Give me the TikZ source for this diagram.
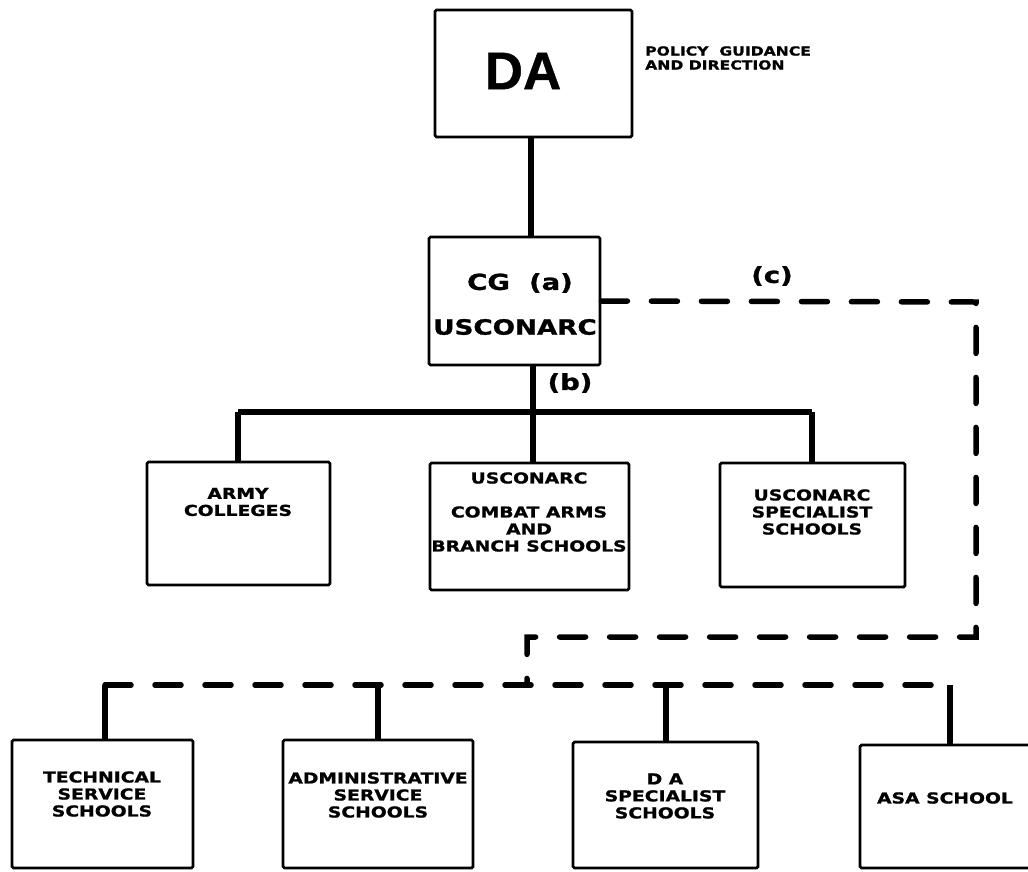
\documentclass[tikz,border=0pt]{standalone}
\usepackage{fontspec}
\setmainfont{DejaVu Sans}
\newfontfamily\widefont{DejaVu Sans}[FakeStretch=1.25,FakeBold=1.2]
\newfontfamily\dafont{Liberation Sans}[FakeBold=0.8]
\begin{document}
\begin{tikzpicture}[x=1pt,y=-1pt,
  box/.style={draw, line width=2.8pt, rounded corners=1.5pt, inner sep=0pt},
  txt/.style={font=\widefont\bfseries\fontsize{15}{17}\selectfont, align=center, inner sep=0pt},
  bigtxt/.style={font=\widefont\bfseries\fontsize{22}{26}\selectfont, align=center, inner sep=0pt},
  conn/.style={line width=5.5pt},
  dsh/.style={line width=5.5pt, line cap=round, dash pattern=on 26pt off 24pt}]
\useasboundingbox (0,0) rectangle (1028,871);
\clip (0,0) rectangle (1028,871);
% top
\node[box, minimum width=197pt, minimum height=127pt] (da) at (533.5,73.5) {};
\node[font=\dafont\bfseries\fontsize{53}{60}\selectfont, inner sep=0pt] (dat) at (523,71) {DA};
\node[anchor=west, font=\widefont\bfseries\fontsize{12.5}{14}\selectfont, align=left, inner sep=0pt] (pol) at (645,58) {POLICY\ \ GUIDANCE\\AND DIRECTION};
% CG
\node[box, minimum width=171pt, minimum height=128pt] (cg) at (514.5,301) {};
\node[bigtxt] (cgt1) at (520,283) {CG\ \ (a)};
\node[bigtxt, font=\widefont\bfseries\fontsize{21}{26}\selectfont] (cgt2) at (515,327) {USCONARC};
\node[bigtxt] (lb) at (570,383) {(b)};
\node[bigtxt] (lc) at (772,276) {(c)};
% middle row
\node[box, minimum width=183pt, minimum height=123pt] (army) at (238.5,523.5) {};
\node[txt] (armyt) at (238,502) {ARMY\\COLLEGES};
\node[box, minimum width=199pt, minimum height=127pt] (comb) at (529.5,526.5) {};
\node[txt] (combt) at (529,512) {USCONARC\\[17pt]COMBAT ARMS\\AND\\BRANCH SCHOOLS};
\node[box, minimum width=185pt, minimum height=124pt] (spec) at (812.5,525) {};
\node[txt] (spect) at (812,512) {USCONARC\\SPECIALIST\\SCHOOLS};
% bottom row
\node[box, minimum width=181pt, minimum height=128pt] (tech) at (102.5,804) {};
\node[txt] (techt) at (102,794) {TECHNICAL\\SERVICE\\SCHOOLS};
\node[box, minimum width=190pt, minimum height=128pt] (adm) at (378,804) {};
\node[txt] (admt) at (378,795) {ADMINISTRATIVE\\SERVICE\\SCHOOLS};
\node[box, minimum width=185pt, minimum height=126pt] (dasp) at (665.5,805) {};
\node[txt] (daspt) at (665,796) {D A\\SPECIALIST\\SCHOOLS};
\node[box, minimum width=180pt, minimum height=123pt] (asa) at (950,806.5) {};
\node[txt] (asat) at (945,798) {ASA SCHOOL};
% solid connectors
\draw[conn] (da.south -| 531,0) -- (cg.north -| 531,0);
\coordinate (bm) at (533,412);
\coordinate (bl) at (238,412);
\coordinate (br) at (812,412);
\draw[conn] (cg.south -| bm) -- (bm);
\draw[conn] (bl) -- (br);
\draw[conn] (bl) -- (army.north -| bl);
\draw[conn] (bm) -- (comb.north -| bm);
\draw[conn] (br) -- (spec.north -| br);
% dashed connector (c)
\coordinate (c1) at (976,302);
\coordinate (c2) at (976,637);
\coordinate (c3) at (527,637);
\coordinate (c4) at (527,685);
\draw[dsh] (cg.east) -- (c1) -- (c2) -- (c3) -- (c4);
\coordinate (l1) at (105,685);
\coordinate (l2) at (378,685);
\coordinate (l3) at (666,685);
\coordinate (l4) at (950,685);
\draw[dsh] (l1) -- (l4);
\draw[conn] (l1) -- (tech.north -| l1);
\draw[conn] (l2) -- (adm.north -| l2);
\draw[conn] (l3) -- (dasp.north -| l3);
\draw[conn] (l4) -- (asa.north -| l4);
\end{tikzpicture}
\end{document}
